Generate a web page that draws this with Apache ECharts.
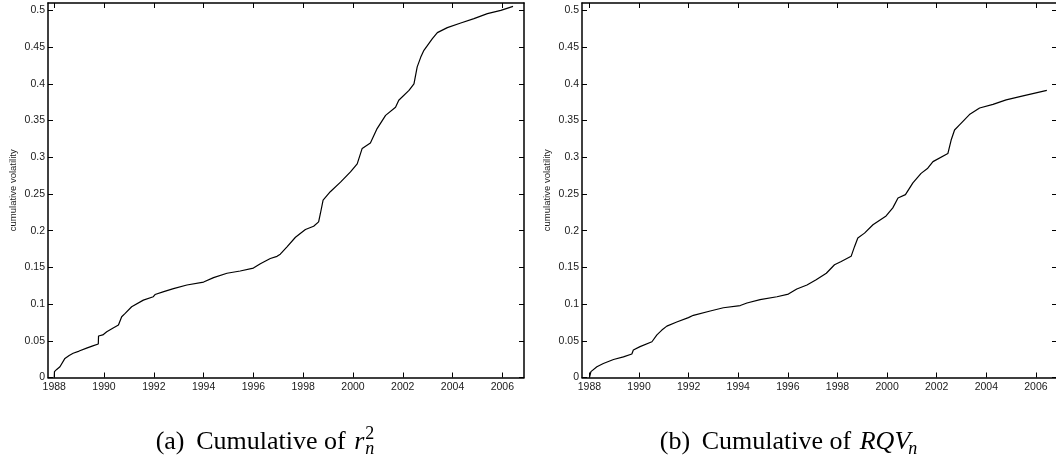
<!DOCTYPE html>
<html>
<head>
<meta charset="utf-8">
<script src="https://cdn.jsdelivr.net/npm/echarts@6/dist/echarts.min.js"></script>
<style>
html,body{margin:0;padding:0;background:#fff;}
#c{width:1056px;height:463px;}
</style>
</head>
<body>
<div id="c"></div>
<script>
// ---- data ----
const leftYears = [1988.00,1988.01,1988.10,1988.23,1988.43,1988.60,1988.76,1989.00,1989.30,1989.55,1989.77,1989.78,1989.95,1990.11,1990.35,1990.58,1990.71,1990.85,1991.11,1991.58,1991.98,1992.05,1992.40,1992.79,1993.33,1994.00,1994.40,1994.94,1995.47,1996.00,1996.28,1996.68,1996.95,1997.08,1997.35,1997.69,1998.09,1998.42,1998.62,1998.69,1998.80,1999.09,1999.50,1999.90,2000.17,2000.37,2000.70,2000.97,2001.31,2001.71,2001.84,2002.25,2002.45,2002.58,2002.72,2002.85,2003.19,2003.39,2003.79,2004.33,2004.86,2005.40,2005.94,2006.43];
const leftValues = [0.000,0.008,0.011,0.0147,0.026,0.030,0.033,0.036,0.040,0.043,0.0456,0.0565,0.058,0.0623,0.067,0.0714,0.0828,0.0873,0.0964,0.1054,0.110,0.113,0.117,0.121,0.126,0.130,0.136,0.142,0.145,0.149,0.155,0.162,0.165,0.168,0.178,0.191,0.2016,0.206,0.212,0.223,0.2415,0.253,0.266,0.280,0.291,0.312,0.3195,0.339,0.357,0.368,0.3776,0.391,0.400,0.423,0.436,0.4456,0.4615,0.4697,0.4765,0.4827,0.4887,0.4955,0.500,0.5054];
const rightYears = [1988.00,1988.06,1988.30,1988.56,1988.97,1989.37,1989.71,1989.77,1990.04,1990.52,1990.72,1990.92,1991.12,1991.52,1991.99,1992.19,1992.87,1993.40,1994.08,1994.35,1994.88,1995.56,1996.02,1996.36,1996.77,1997.14,1997.55,1997.88,1998.15,1998.55,1998.69,1998.82,1999.09,1999.43,1999.96,2000.23,2000.44,2000.74,2001.04,2001.37,2001.64,2001.85,2002.45,2002.58,2002.72,2002.92,2003.32,2003.73,2004.27,2004.80,2005.48,2006.44];
const rightValues = [0,0.008,0.0147,0.019,0.0245,0.028,0.032,0.0374,0.042,0.0487,0.058,0.0646,0.070,0.0755,0.0816,0.0847,0.0906,0.095,0.098,0.1015,0.106,0.110,0.1136,0.1205,0.126,0.133,0.142,0.1535,0.158,0.165,0.1785,0.190,0.1966,0.208,0.220,0.231,0.2445,0.249,0.265,0.278,0.285,0.294,0.305,0.323,0.337,0.344,0.358,0.367,0.372,0.378,0.3836,0.391];
const xTickLabels = [1988,1990,1992,1994,1996,1998,2000,2002,2004,2006];
const yTickLabels = [0,0.05,0.1,0.15,0.2,0.25,0.3,0.35,0.4,0.45,0.5];
const yAxisTitle = 'cumulative volatility';
const captionA = {tag:'(a)', text:'Cumulative of', sym:'r', sup:'2', sub:'n'};
const captionB = {tag:'(b)', text:'Cumulative of', sym:'RQV', sup:'', sub:'n'};

// ---- chart ----
const chart = echarts.init(document.getElementById('c'), null, {renderer:'canvas'});
const AX = '#000';
const labelFont = {fontFamily:'"Liberation Sans", Arial, sans-serif', fontSize:10.5, color:'#1a1a1a'};
const grids = [
  {left:48, top:3, width:476, height:374.5, outerBoundsMode:'none', containLabel:false},
  {left:582, top:3, width:475, height:374.5, outerBoundsMode:'none', containLabel:false}
];
const xRanges = [[1987.75, 2006.87],[1987.70, 2006.85]];
function xAx(g, pos, labels){
  return {type:'value', gridIndex:g, position:pos, min:xRanges[g][0], max:xRanges[g][1],
    axisLine:{show:true, onZero:false, lineStyle:{color:AX, width:1.5}},
    axisTick:{show:true, inside:true, length:5, lineStyle:{color:AX, width:1}, customValues:xTickLabels},
    axisLabel:{show:labels, margin:4, ...labelFont, customValues:xTickLabels, formatter:v=>String(Math.round(v))},
    splitLine:{show:false}};
}
function yAx(g, pos, labels){
  return {type:'value', gridIndex:g, position:pos, min:0, max:0.51,
    name: labels ? yAxisTitle : '', nameLocation:'middle', nameGap:30, nameRotate:90,
    nameTextStyle:{fontFamily:'"Liberation Sans", Arial, sans-serif', fontSize:9.5, color:'#1a1a1a'},
    axisLine:{show:true, onZero:false, lineStyle:{color:AX, width:1.5}},
    axisTick:{show:true, inside:true, length:5, lineStyle:{color:AX, width:1}, customValues:yTickLabels},
    axisLabel:{show:labels, margin:3, ...labelFont, customValues:yTickLabels, formatter:v=>String(parseFloat((+v).toFixed(2)))},
    splitLine:{show:false}};
}
function pairs(xs, ys){ return xs.map((x,i)=>[x, ys[i]]); }

// caption layout helpers (measure real font widths, centre under each panel)
const mctx = document.createElement('canvas').getContext('2d');
function tw(str, font){ mctx.font = font; return mctx.measureText(str).width; }
const serif = '"Liberation Serif", "Times New Roman", serif';
const capSize = 26, smallSize = 18, capY = 442;
function caption(c, cx){
  const fN = capSize + 'px ' + serif, fI = 'italic ' + capSize + 'px ' + serif;
  const fS = smallSize + 'px ' + serif, fSI = 'italic ' + smallSize + 'px ' + serif;
  const gap = 0.45 * capSize;
  const wTag = tw(c.tag, fN), wText = tw(c.text + ' ', fN), wSym = tw(c.sym, fI);
  const wScr = Math.max(c.sup ? tw(c.sup, fS) : 0, c.sub ? tw(c.sub, fSI) : 0);
  const total = wTag + gap + wText + 2 + wSym + 1 + wScr;
  const x0 = cx - total / 2;
  const st = (text, font) => ({text, font, fill:'#000', verticalAlign:'middle', align:'left'});
  const els = [];
  els.push({type:'text', x:x0, y:capY, style:st(c.tag, fN)});
  const xText = x0 + wTag + gap;
  els.push({type:'text', x:xText, y:capY, style:st(c.text, fN)});
  const xs = xText + wText + 2;
  els.push({type:'text', x:xs, y:capY, style:st(c.sym, fI)});
  const xe = xs + wSym + 1;
  if (c.sup) els.push({type:'text', x:xe, y:capY - 8, style:st(c.sup, fS)});
  if (c.sub) els.push({type:'text', x:xe - (c.sup ? 0 : 3), y:capY + 7, style:st(c.sub, fSI)});
  return els;
}

chart.setOption({
  animation:false,
  backgroundColor:'#fff',
  grid: grids,
  xAxis: [xAx(0,'bottom',true), xAx(0,'top',false), xAx(1,'bottom',true), xAx(1,'top',false)],
  yAxis: [yAx(0,'left',true), yAx(0,'right',false), yAx(1,'left',true), yAx(1,'right',false)],
  series: [
    {type:'line', xAxisIndex:0, yAxisIndex:0, data:pairs(leftYears,leftValues), showSymbol:false, smooth:false,
     lineStyle:{color:'#000', width:1.2}},
    {type:'line', xAxisIndex:2, yAxisIndex:2, data:pairs(rightYears,rightValues), showSymbol:false, smooth:false,
     lineStyle:{color:'#000', width:1.2}}
  ],
  graphic: [...caption(captionA, 265), ...caption(captionB, 790)]
});
</script>
</body>
</html>
